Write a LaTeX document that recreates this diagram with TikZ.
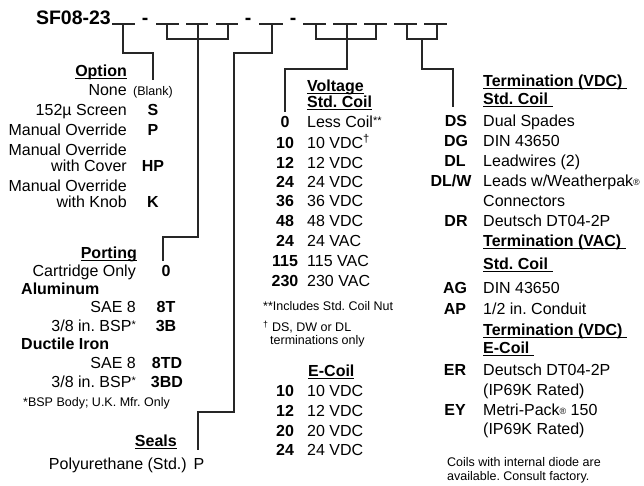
\documentclass[tikz,border=0pt]{standalone}
\usepackage{fontspec}
\setmainfont{Liberation Sans}
\frenchspacing
\begin{document}
\begin{tikzpicture}[x=1pt,y=-1pt,
  txt/.style={inner sep=0pt,font=\fontsize{16}{19}\selectfont},
  bld/.style={inner sep=0pt,font=\fontsize{16}{19}\selectfont\bfseries},
  note/.style={inner sep=0pt,font=\fontsize{12.5}{15}\selectfont},
  ttl/.style={inner sep=0pt,font=\fontsize{19.5}{22}\selectfont\bfseries},
  ln/.style={draw=black!85,line width=1.3pt},
  blank/.style={draw=black!85,line width=1.2pt}]
\useasboundingbox (0,0) rectangle (644,485);
\newcommand{\smsym}[1]{{\fontsize{9}{9}\selectfont\raisebox{1pt}{#1}}}
\newcommand{\smast}[1]{\raisebox{3.5pt}{\fontsize{11}{11}\selectfont #1}}
\newcommand{\hdr}[1]{\underline{\smash{#1}}}
% title
\node[ttl,anchor=base east] (title) at (111,24) {SF08-23};
\node[ttl,anchor=base] (d1) at (145,24) {-};
\node[ttl,anchor=base] (d2) at (248,24) {-};
\node[ttl,anchor=base] (d3) at (293,24) {-};
% blanks
\foreach \a/\b/\n in {112/135/1,156/179/2,186/208/3,216/238/4,259/283/5,303/326/6,333/357/7,364/387/8,394/417/9,424/447/10}{
  \coordinate (bl\n) at (\a,24); \coordinate (br\n) at (\b,24);
  \draw[blank] (bl\n) -- (br\n);
}
\coordinate (b1) at (123,24);
\coordinate (b2) at (167,24); \coordinate (b3) at (198,24); \coordinate (b4) at (228,24);
\coordinate (b5) at (272,24);
\coordinate (b6) at (316,24); \coordinate (b7) at (347,24); \coordinate (b8) at (376,24);
\coordinate (b9) at (407,24); \coordinate (b10) at (437,24); \coordinate (b910) at (422,39);
\coordinate (eOpt) at (153,80);
\coordinate (ePort) at (163,261);
\coordinate (eSeal) at (198,450);
\coordinate (eVolt) at (285,112);
\coordinate (eTerm) at (453,107);
% connectors
\draw[ln] (b1) |- (153,53) -- (eOpt);
\draw[ln] (b2) |- (b4 |- 0,39) -- (b4);
\draw[ln] (b3) -- (198,237) -| (ePort);
\draw[ln] (b5) |- (234,53) -- (234,412) -| (eSeal);
\draw[ln] (b6) |- (b8 |- 0,39) -- (b8);
\draw[ln] (b7) -- (347,69) -| (eVolt);
\draw[ln] (b9) |- (b10 |- 0,39) -- (b10);
\draw[ln] (b910) -- (422,69) -| (eTerm);
% Option
\node[bld,anchor=mid east] (optH) at (127,74) {\hdr{Option}};
\node[txt,anchor=mid east] (o1) at (127,93) {None};
\node[note,anchor=mid west] (o1c) at (133,93) {(Blank)};
\node[txt,anchor=mid east] (o2) at (127,113) {152µ Screen};
\node[bld,anchor=mid] (o2c) at (153,113) {S};
\node[txt,anchor=mid east] (o3) at (127,133) {Manual Override};
\node[bld,anchor=mid] (o3c) at (153,133) {P};
\node[txt,anchor=mid east] (o4) at (127,153) {Manual Override};
\node[txt,anchor=mid east] (o4b) at (127,169) {with Cover};
\node[bld,anchor=mid] (o4c) at (153,169) {HP};
\node[txt,anchor=mid east] (o5) at (127,189) {Manual Override};
\node[txt,anchor=mid east] (o5b) at (127,205) {with Knob};
\node[bld,anchor=mid] (o5c) at (153,205) {K};
% Porting
\node[bld,anchor=mid east] (pH) at (137,256) {\hdr{Porting}};
\node[txt,anchor=mid east] (p1) at (136,274) {Cartridge Only};
\node[bld,anchor=mid] (p1c) at (166,274) {0};
\node[bld,anchor=mid west] (pAl) at (21,292) {Aluminum};
\node[txt,anchor=mid east] (p2) at (136,310) {SAE 8};
\node[bld,anchor=mid] (p2c) at (166,310) {8T};
\node[txt,anchor=mid east] (p3) at (136,329) {3/8 in. BSP\smast{*}};
\node[bld,anchor=mid] (p3c) at (166,329) {3B};
\node[bld,anchor=mid west] (pDu) at (21,347) {Ductile Iron};
\node[txt,anchor=mid east] (p4) at (136,366) {SAE 8};
\node[bld,anchor=mid] (p4c) at (167,366) {8TD};
\node[txt,anchor=mid east] (p5) at (136,385) {3/8 in. BSP\smast{*}};
\node[bld,anchor=mid] (p5c) at (167,385) {3BD};
\node[note,anchor=mid west] (pN) at (23,404) {*BSP Body; U.K. Mfr. Only};
% Seals
\node[bld,anchor=mid east] (sH) at (177,444) {\hdr{Seals}};
\node[txt,anchor=mid east] (s1) at (187,467) {Polyurethane (Std.)};
\node[txt,anchor=mid] (s1c) at (199,467) {P};
% Voltage
\node[bld,anchor=mid west] (vH1) at (307,89) {\hdr{Voltage}};
\node[bld,anchor=mid west] (vH2) at (307,105) {\hdr{Std. Coil}};
\foreach \y/\c/\d/\n in {125/0/Less Coil\smast{**}/1,146/10/10 VDC\textsuperscript{†}/2,166/12/12 VDC/3,185/24/24 VDC/4,204/36/36 VDC/5,224/48/48 VDC/6,244/24/24 VAC/7,264/115/115 VAC/8,284/230/230 VAC/9}{
  \node[bld,anchor=mid] (vc\n) at (285,\y) {\c};
  \node[txt,anchor=mid west] (vd\n) at (307,\y) {\d};
}
\node[note,anchor=mid west] (vN1) at (263,308) {**Includes Std. Coil Nut};
\node[note,anchor=mid west] (vN2) at (263,329) {\textsuperscript{†} DS, DW or DL};
\node[note,anchor=mid west] (vN3) at (270,342) {terminations only};
\node[bld,anchor=mid west] (eH) at (308,374) {\hdr{E-Coil}};
\foreach \y/\c/\n in {394/10/1,414/12/2,434/20/3,453/24/4}{
  \node[bld,anchor=mid] (ec\n) at (285,\y) {\c};
  \node[txt,anchor=mid west] (ed\n) at (307,\y) {\c{} VDC};
}
% Termination
\node[bld,anchor=mid west] (tH1) at (483,84) {\hdr{Termination (VDC)\ }};
\node[bld,anchor=mid west] (tH2) at (483,102) {\hdr{Std. Coil\ }};
\node[bld,anchor=mid] (t1c) at (456,124) {DS};
\node[txt,anchor=mid west] (t1) at (483,124) {Dual Spades};
\node[bld,anchor=mid] (t2c) at (456,144) {DG};
\node[txt,anchor=mid west] (t2) at (483,144) {DIN 43650};
\node[bld,anchor=mid] (t3c) at (455,164) {DL};
\node[txt,anchor=mid west] (t3) at (483,164) {Leadwires (2)};
\node[bld,anchor=mid] (t4c) at (451,184) {DL/W};
\node[txt,anchor=mid west] (t4) at (483,184) {Leads w/Weatherpak\smsym{®}};
\node[txt,anchor=mid west] (t4b) at (483,204) {Connectors};
\node[bld,anchor=mid] (t5c) at (456,224) {DR};
\node[txt,anchor=mid west] (t5) at (483,224) {Deutsch DT04-2P};
\node[bld,anchor=mid west] (tH3) at (483,244) {\hdr{Termination (VAC)\ }};
\node[bld,anchor=mid west] (tH4) at (483,267) {\hdr{Std. Coil\ }};
\node[bld,anchor=mid] (t6c) at (455,291) {AG};
\node[txt,anchor=mid west] (t6) at (483,291) {DIN 43650};
\node[bld,anchor=mid] (t7c) at (455,312) {AP};
\node[txt,anchor=mid west] (t7) at (483,312) {1/2 in. Conduit};
\node[bld,anchor=mid west] (tH5) at (483,333) {\hdr{Termination (VDC)\ }};
\node[bld,anchor=mid west] (tH6) at (483,351) {\hdr{E-Coil\ }};
\node[bld,anchor=mid] (t8c) at (455,373) {ER};
\node[txt,anchor=mid west] (t8) at (483,373) {Deutsch DT04-2P};
\node[txt,anchor=mid west] (t8b) at (483,393) {(IP69K Rated)};
\node[bld,anchor=mid] (t9c) at (455,413) {EY};
\node[txt,anchor=mid west] (t9) at (483,413) {Metri-Pack\smsym{®} 150};
\node[txt,anchor=mid west] (t9b) at (483,432) {(IP69K Rated)};
\node[note,anchor=mid west] (tN1) at (447,464) {Coils with internal diode are};
\node[note,anchor=mid west] (tN2) at (447,478) {available. Consult factory.};
\end{tikzpicture}
\end{document}
